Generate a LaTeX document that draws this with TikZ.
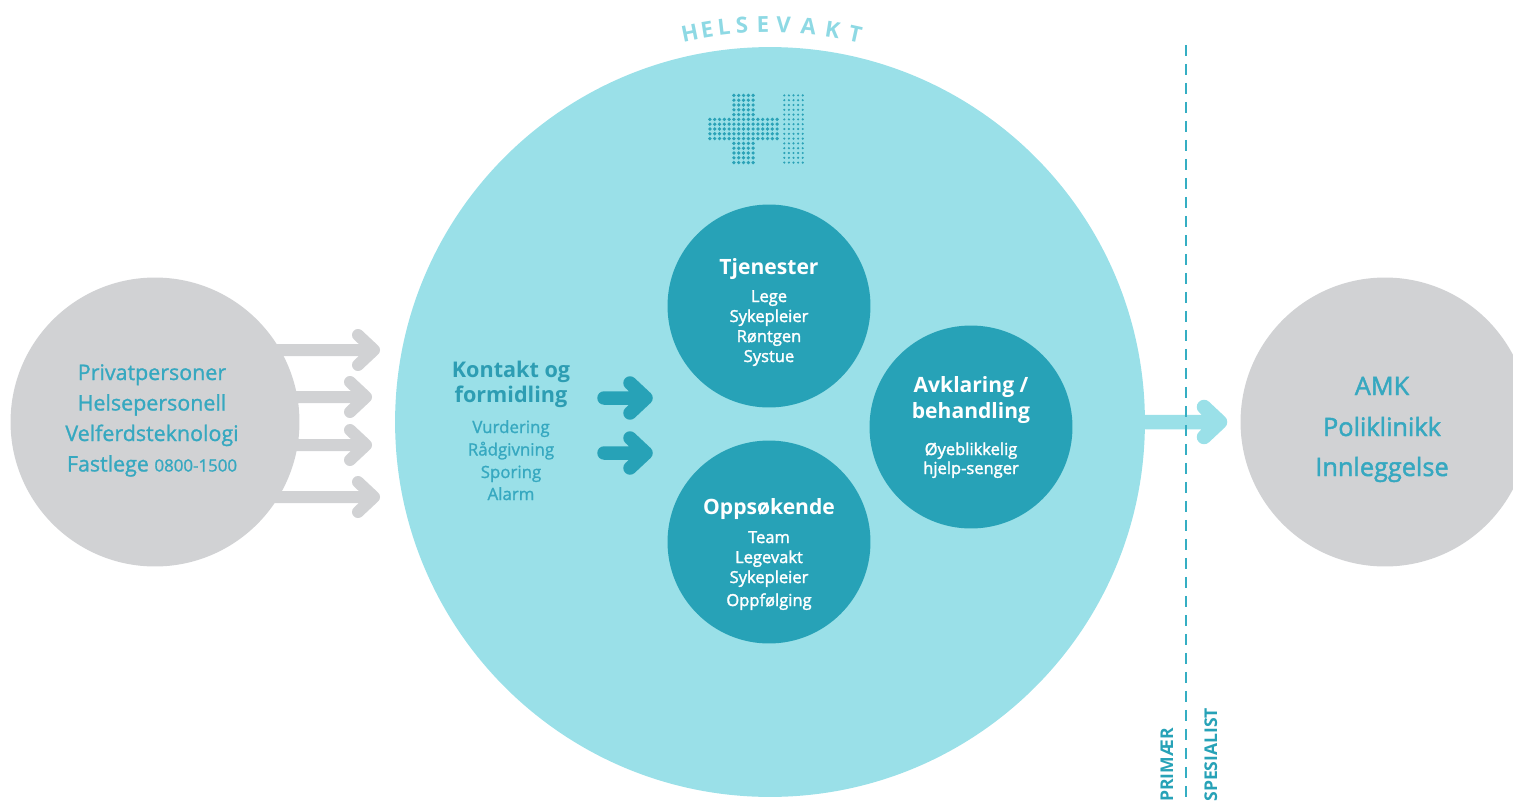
\documentclass[tikz,border=0pt]{standalone}
\usepackage{fontspec}
\setmainfont{Open Sans}
\newfontfamily\osmed[FakeBold=1.2]{Open Sans}
\newfontfamily\ossemi[FakeBold=1.8]{Open Sans}
\usetikzlibrary{calc}
\definecolor{cLight}{HTML}{9AE0E8}
\definecolor{cDark}{HTML}{27A2B7}
\definecolor{cGray}{HTML}{D1D2D4}
\definecolor{cTxt}{HTML}{36A8C0}
\definecolor{cTxtDark}{HTML}{2D9DB3}
\definecolor{cTitle}{HTML}{8ED9E4}
\definecolor{cDash}{HTML}{35AEC3}
\definecolor{cDot}{HTML}{2AA2B7}
\pgfdeclarelayer{behind}
\pgfsetlayers{behind,main}
\begin{document}
\begin{tikzpicture}[x=0.02cm, y=-0.02cm,
  bigcircle/.style={circle, fill=cLight, minimum size=15cm, inner sep=0pt},
  graycircle/.style={circle, fill=cGray, minimum size=5.78cm, inner sep=0pt},
  darkcircle/.style={circle, fill=cDark, minimum size=4.06cm, inner sep=0pt},
  thickarrow/.style={line cap=round, line join=round},
  grayarrow/.style={thickarrow, draw=cGray, line width=0.24cm},
  tealarrow/.style={thickarrow, draw=cDark, line width=0.27cm},
  lightarrow/.style={thickarrow, draw=cLight, line width=0.29cm},
  divider/.style={draw=cDash, line width=0.05cm, dash pattern=on 0.22cm off 0.16cm},
  lefttxt/.style={text=cTxt, font=\osmed\fontsize{12.2}{14}\selectfont, anchor=base, inner sep=0pt},
  kontakthdr/.style={text=cTxtDark, font=\bfseries\fontsize{12.3}{14}\selectfont, anchor=base, inner sep=0pt},
  kontaktsub/.style={text=cTxt, font=\osmed\fontsize{9.6}{11}\selectfont, anchor=base, inner sep=0pt},
  hdrtxt/.style={text=white, font=\bfseries\fontsize{12}{14}\selectfont, anchor=base, inner sep=0pt},
  subtxt/.style={text=white, font=\ossemi\fontsize{9.4}{11}\selectfont, anchor=base, inner sep=0pt},
  righttxt/.style={text=cTxt, font=\ossemi\fontsize{14.4}{17}\selectfont, anchor=base, inner sep=0pt},
  sidetxt/.style={text=cDark, font=\bfseries\fontsize{10}{12}\selectfont, rotate=90, anchor=base west, inner sep=0pt},
  titleletter/.style={text=cTitle, font=\bfseries\fontsize{12.6}{14}\selectfont, inner sep=0pt, text height=0.3cm, text depth=0pt},
]
\path[use as bounding box] (0,0) rectangle (1513,804);
\clip (0,0) rectangle (1513,804);

% main circles
\node[bigcircle] (big) at (770,422) {};
\node[graycircle] (lc) at (155,422) {};
\node[graycircle] (rc) at (1385,422) {};
\node[darkcircle] (tj) at (769,306) {};
\node[darkcircle] (av) at (971,427) {};
\node[darkcircle] (op) at (769,542) {};

% title along the arc
\foreach \L/\a [count=\i] in {H/-11.63, E/-9.13, L/-6.65, S/-4.04, E/-1.01, V/1.95, A/5.56, K/9.05, T/12.4}
  \node[titleletter, rotate=-\a] (hv\i) at ({770+397*sin(\a)},{422-397*cos(\a)}) {\L};

% dotted logo
\foreach \i in {-2,...,2} \foreach \j in {-7,...,7}
  \fill[cDot] ({743.5+\i*4.8},{129+\j*4.8}) circle[radius=0.037cm];
\foreach \i in {-7,-6,-5,-4,-3,3,4,5,6,7} \foreach \j in {-2,...,2}
  \fill[cDot] ({743.5+\i*4.8},{129+\j*4.8}) circle[radius=0.037cm];
\foreach \i in {-2,...,2} \foreach \j in {-7,...,7}
  \fill[cDot] ({793.5+\i*4.6},{129+\j*4.8}) circle[radius=0.024cm];

% gray input arrows (behind the left circle)
\coordinate (g1) at (374,350);
\coordinate (g2) at (366,397);
\coordinate (g3) at (366,445);
\coordinate (g4) at (374,497);
\begin{pgfonlayer}{behind}
\foreach \g in {g1,g2,g3,g4}
  \draw[grayarrow] (lc.center |- \g) -- (\g) ($(\g)+(-16,-15)$) -- (\g) -- ($(\g)+(-16,15)$);
\end{pgfonlayer}

% teal arrows
\coordinate (ta1s) at (604,398);
\coordinate (ta1) at (646,398);
\coordinate (ta2s) at (604,453);
\coordinate (ta2) at (646,453);
\draw[tealarrow] (ta1s) -- (ta1) ($(ta1)+(-16,-15)$) -- (ta1) -- ($(ta1)+(-16,15)$);
\draw[tealarrow] (ta2s) -- (ta2) ($(ta2)+(-16,-15)$) -- (ta2) -- ($(ta2)+(-16,15)$);

% output arrow
\coordinate (ra) at (1220,422);
\draw[lightarrow] (big.east) -- (ra) ($(ra)+(-16,-15)$) -- (ra) -- ($(ra)+(-16,15)$);

% divider
\coordinate (dtop) at (1186,45);
\coordinate (dbot) at (1186,804);
\draw[divider] (dtop) -- (dbot);
\node[sidetxt] (prim) at (1173,802) {PRIMÆR};
\node[sidetxt] (spes) at (1217,802) {SPESIALIST};

% left circle text
\node[lefttxt] (l1) at (152,380) {Privatpersoner};
\node[lefttxt] (l2) at (152,410.5) {Helsepersonell};
\node[lefttxt] (l3) at (152,441) {Velferdsteknologi};
\node[lefttxt] (l4) at (152,471.5) {Fastlege {\fontsize{9.6}{11}\selectfont 0800-1500}};

% kontakt text
\node[kontakthdr] (k1) at (511,377) {Kontakt og};
\node[kontakthdr] (k2) at (511,402) {formidling};
\foreach \t/\y [count=\i] in {Vurdering/433, Rådgivning/455.5, Sporing/478, Alarm/500}
  \node[kontaktsub] (ks\i) at (511,\y) {\t};

% Tjenester
\node[hdrtxt] (tjh) at (769,274) {Tjenester};
\foreach \t/\y [count=\i] in {Lege/302, Sykepleier/322, Røntgen/342, Systue/362}
  \node[subtxt] (tjs\i) at (769,\y) {\t};

% Avklaring
\node[hdrtxt] (avh1) at (971,392) {Avklaring /};
\node[hdrtxt] (avh2) at (971,418) {behandling};
\node[subtxt] (avs1) at (971,455) {Øyeblikkelig};
\node[subtxt] (avs2) at (971,474) {hjelp-senger};

% Oppsøkende
\node[hdrtxt] (oph) at (769,514) {Oppsøkende};
\foreach \t/\y [count=\i] in {Team/543, Legevakt/563, Sykepleier/583, Oppfølging/606}
  \node[subtxt] (ops\i) at (769,\y) {\t};

% right circle text
\node[righttxt] (r1) at (1382,395) {AMK};
\node[righttxt] (r2) at (1382,436) {Poliklinikk};
\node[righttxt] (r3) at (1382,476) {Innleggelse};
\end{tikzpicture}
\end{document}
